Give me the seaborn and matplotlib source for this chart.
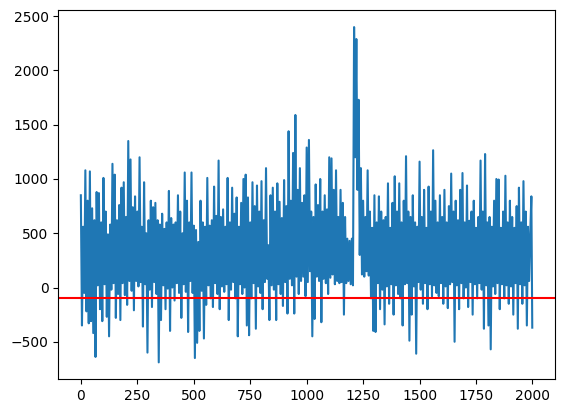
"""Noisy signal trace with a threshold line."""

import matplotlib

matplotlib.use("Agg")

import matplotlib.pyplot as plt
import numpy as np
import seaborn as sns

# sample values, one every 5 steps (last value sits at step 1999)
signal_0_495 = [
    850, -350, 560, -50, 1080, -220, 800, -330, 1070, -310,
    730, -420, 620, -640, 880, 20, 870, -200, 600, -310,
    1010, 30, 700, -270, 490, -450, 580, -20, 1140, 40,
    1040, -280, 620, -60, 760, -300, 920, 40, 970, -70,
    650, -160, 1350, 60, 1180, -30, 740, -210, 840, 60,
    700, 10, 1200, 50, 560, -360, 970, 30, 500, -600,
    620, -20, 800, -180, 740, 50, 780, -60, 620, -690,
    580, -300, 680, 20, 540, -200, 600, -10, 890, -400,
    640, 0, 580, -120, 600, 40, 850, -50, 700, -280,
    500, 30, 1060, -40, 800, -410, 600, 60, 1060, -50,
]
signal_500_995 = [
    570, -650, 530, -510, 420, -400, 800, -30, 600, -470,
    560, -160, 1010, 20, 570, -100, 620, -180, 930, 40,
    660, -60, 1170, -200, 650, 10, 720, -40, 560, 30,
    1010, -300, 600, -20, 920, 50, 680, -100, 830, -450,
    560, 30, 780, -60, 1000, 0, 1040, -350, 830, -440,
    600, -100, 970, 40, 750, -380, 940, 10, 700, -50,
    980, -200, 620, 50, 1100, 80, 390, -300, 850, 20,
    920, -20, 700, -300, 960, 30, 790, -60, 640, -170,
    990, 50, 750, -240, 1440, 80, 800, 20, 1240, -240,
    1590, 100, 900, -60, 1100, 60, 780, 100, 850, -80,
]
signal_1000_1495 = [
    1290, 50, 1360, 150, 700, -450, 650, -290, 950, 100,
    760, 60, 1000, -320, 700, 80, 850, 40, 720, -60,
    1200, 90, 1190, 120, 900, 30, 1080, 60, 650, 40,
    900, 50, 780, -250, 650, 40, 450, 60, 430, 30,
    450, 20, 2400, 1200, 2290, 900, 1730, 300, 1100, 120,
    800, 100, 650, 150, 1080, 110, 700, -100, 550, -400,
    850, -410, 600, 40, 840, -200, 700, -20, 620, -340,
    650, 10, 960, -150, 550, 30, 780, -250, 1025, 20,
    700, -60, 960, -100, 600, -350, 800, 30, 1210, 40,
    700, -490, 650, -250, 850, 10, 600, -610, 560, 50,
]
signal_1500_1999 = [
    1160, -20, 650, -150, 900, 40, 550, -200, 930, 30,
    700, -80, 1265, 20, 800, -50, 600, -80, 850, 40,
    650, -150, 900, 10, 600, -190, 750, 30, 1050, 50,
    700, -500, 800, 20, 620, -200, 900, 40, 1055, -100,
    600, 0, 940, -180, 615, 50, 700, -250, 800, 30,
    550, -100, 650, 40, 1170, -20, 700, -380, 1230, 20,
    600, -350, 650, -570, 560, 10, 800, -60, 1000, 40,
    995, -200, 550, 30, 700, -100, 1030, 20, 600, -150,
    800, 10, 650, -250, 550, 40, 750, -380, 920, 30,
    600, -150, 980, 20, 700, -350, 560, 60, 500, 840,
    -370,
]
threshold = -100

values = np.array(signal_0_495 + signal_500_995 + signal_1000_1495 + signal_1500_1999)
steps = np.append(np.arange(0, 2000, 5), 1999)[: len(values)]

fig = plt.figure(figsize=(5.63, 4.13), dpi=100)
ax = fig.add_axes([0.1035, 0.082, 0.882, 0.893])
sns.lineplot(x=steps, y=values, ax=ax, color="#1f77b4", linewidth=1.5)
ax.axhline(threshold, color="red", linewidth=1.5)
ax.set(xlabel="", ylabel="")

fig.savefig("out.png", dpi=100)
plt.close(fig)
